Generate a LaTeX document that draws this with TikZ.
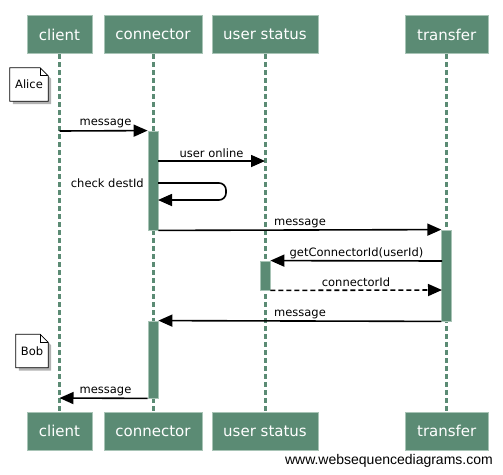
\documentclass[tikz,border=0pt]{standalone}
\usepackage{fontspec}
\setmainfont{DejaVu Sans}
\newfontfamily\wmfont{Liberation Sans}
\usetikzlibrary{arrows.meta}
\definecolor{wsdgreen}{RGB}{91,139,116}
\definecolor{wsdedge}{RGB}{168,196,182}
\begin{document}
\begin{tikzpicture}[x=1pt,y=-1pt,
  actor/.style={draw=wsdedge, line width=1pt, fill=wsdgreen, text=white,
    font=\fontsize{15}{18}\selectfont, inner sep=0pt, minimum height=38pt},
  life/.style={draw=wsdgreen, line width=3pt, dash pattern=on 5pt off 3pt},
  act/.style={draw=wsdedge, line width=0.8pt, fill=wsdgreen, minimum width=10pt, inner sep=0pt},
  msg/.style={draw=black, line width=1.6pt, -{Triangle[length=14pt,width=12pt]}},
  lbl/.style={font=\fontsize{11.5}{13}\selectfont, inner sep=0pt, anchor=base},
  notetext/.style={font=\fontsize{11.5}{13}\selectfont, inner sep=0pt, minimum height=33pt},
  notebox/.style={draw=black, line width=0.8pt, fill=white},
  noteshadow/.style={fill=black, opacity=0.3}
]
\useasboundingbox (0,0) rectangle (503,474);
\fill[white] (0,0) rectangle (503,474);

% actors top
\node[actor, minimum width=65pt]  (clientT)  at (59.5,34.5) {client};
\node[actor, minimum width=98pt]  (connT)    at (153,34.5)  {connector};
\node[actor, minimum width=106pt] (userT)    at (265,34.5)  {user status};
\node[actor, minimum width=83pt]  (transT)   at (446.75,34.5) {transfer};
% actors bottom
\node[actor, minimum width=65pt]  (clientB)  at (59.5,431) {client};
\node[actor, minimum width=98pt]  (connB)    at (153,431)  {connector};
\node[actor, minimum width=106pt] (userB)    at (265,431)  {user status};
\node[actor, minimum width=83pt]  (transB)   at (446.75,431) {transfer};

% lifelines
\draw[life] (clientT.south) -- (clientB.north);
\draw[life] (connT.south) -- (connB.north);
\draw[life] (userT.south) -- (userB.north);
\draw[life] (transT.south) -- (transB.north);

% activations
\node[act, minimum height=99pt] (a1) at (153,180.5) {};
\node[act, minimum height=91pt] (t1) at (446.75,275.5) {};
\node[act, minimum height=29pt] (u1) at (265,275.5) {};
\node[act, minimum height=77pt] (a2) at (153,359.5) {};

% notes
\node[notetext, minimum width=38pt] (alice) at (29,84.5) {};
\node[notetext, minimum width=32pt] (bob) at (32,351) {};
\foreach \n in {alice,bob}{
  \fill[noteshadow] ([shift={(3pt,-3pt)}]\n.north west) -- ([shift={(-5pt,-3pt)}]\n.north east)
     -- ([shift={(3pt,-11pt)}]\n.north east) -- ([shift={(3pt,-3pt)}]\n.south east)
     -- ([shift={(3pt,-3pt)}]\n.south west) -- cycle;
  \draw[notebox] (\n.north west) -- ([xshift=-8pt]\n.north east)
     -- ([yshift=-8pt]\n.north east) -- (\n.south east) -- (\n.south west) -- cycle;
  \draw[line width=0.8pt] ([xshift=-8pt]\n.north east) -- ([xshift=-8pt,yshift=-8pt]\n.north east)
     -- ([yshift=-8pt]\n.north east);
}
\node[notetext] (alicet) at (alice) {Alice};
\node[notetext] (bobt) at (bob) {Bob};

% coordinates on lifelines
\coordinate (c1) at (59.5,131);
\coordinate (u2) at (265,161);
\coordinate (s1) at (158,183);
\coordinate (s2) at (226,183);
\coordinate (s3) at (226,200);
\coordinate (s4) at (158,200);
\coordinate (t5) at (442,261);
\coordinate (t6) at (442,290);
\coordinate (c8) at (59.5,398);
\coordinate (a1o) at (158,161);

% messages
\draw[msg] (c1) -- (a1.north west);
\node[lbl] at (105.5,125) {message};

\draw[msg] (a1o) -- (u2);
\node[lbl] at (211.5,157) {user online};

\draw[msg, rounded corners=7pt] (s1) -- (s2) -- (s3) -- (s4);
\node[lbl, anchor=base east] at (144,187.5) {check destId};

\draw[msg] (a1.south east) -- (t1.north west);
\node[lbl] at (300,225.5) {message};

\draw[msg] (t5) -- (u1.north east);
\node[lbl] at (356.5,256) {getConnectorId(userId)};

\draw[msg, dash pattern=on 5pt off 3pt] (u1.south east) -- (t6);
\node[lbl] at (356,286) {connectorId};

\draw[msg] (t1.south west) -- (a2.north east);
\node[lbl] at (300,316.5) {message};

\draw[msg] (a2.south west) -- (c8);
\node[lbl] at (105.5,393.5) {message};

% watermark
\node[font=\wmfont\fontsize{14}{16}\selectfont, inner sep=0pt, anchor=base east] (wm) at (493,464.5) {www.websequencediagrams.com};
\end{tikzpicture}
\end{document}
